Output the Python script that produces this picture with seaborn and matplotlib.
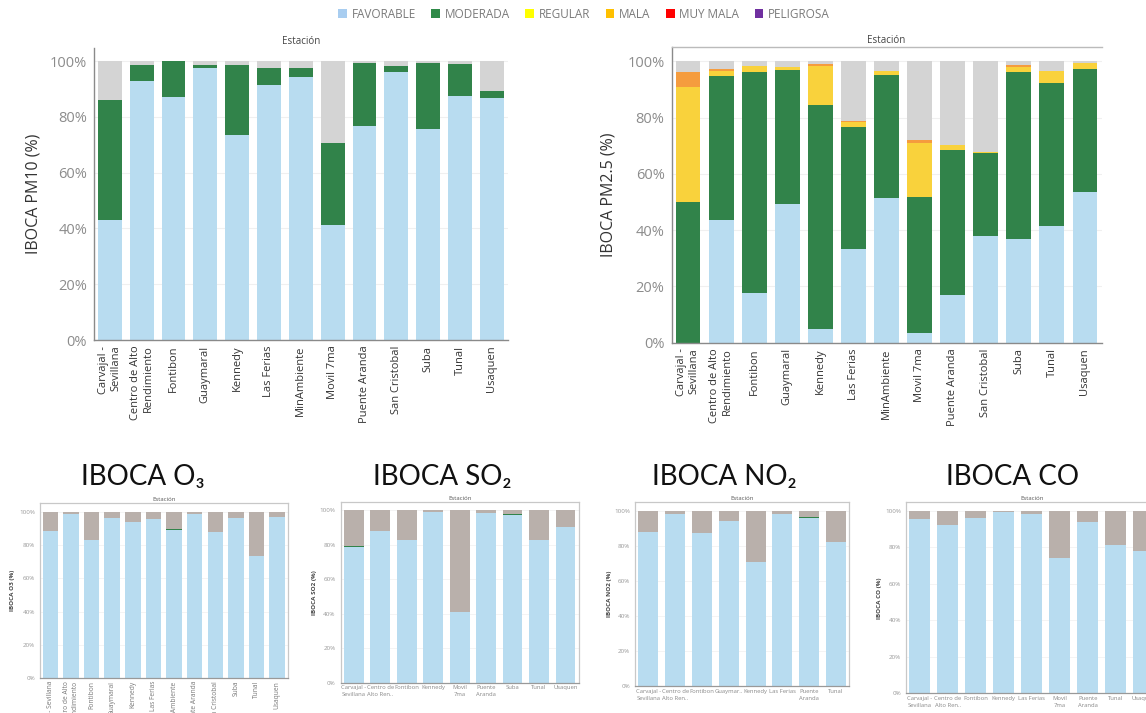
import numpy as np
import matplotlib
matplotlib.use("Agg")
import matplotlib.pyplot as plt
from matplotlib.patches import Patch
import seaborn as sns

sns.set_style("white")
plt.rcParams['font.family'] = ['Open Sans', 'DejaVu Sans']

# ---------------- colours ----------------
FAV_C = '#b8dcf0'
MOD_C = '#31834a'
REG_C = '#f9d23c'
MALA_C = '#f59c3e'
ND_C = '#d4d4d4'
ND2_C = '#b9b0ab'

# ---------------- legend ----------------
legend_labels = ["FAVORABLE", "MODERADA", "REGULAR", "MALA", "MUY MALA", "PELIGROSA"]
legend_colors = ['#a8cdf0', '#2f8a48', '#ffff00', '#ffc000', '#ff0000', '#7030a0']

# ---------------- PM10 ----------------
pm10_stations = ["Carvajal -\nSevillana", "Centro de Alto\nRendimiento", "Fontibon", "Guaymaral",
                 "Kennedy", "Las Ferias", "MinAmbiente", "Movil 7ma", "Puente Aranda",
                 "San Cristobal", "Suba", "Tunal", "Usaquen"]
pm10_fav = [42.9, 92.8, 87.2, 97.6, 73.5, 91.6, 94.4, 41.2, 76.6, 96.0, 75.8, 87.4, 86.8]
pm10_mod = [43.3, 5.8, 12.8, 1.0, 25.1, 5.8, 3.2, 29.5, 22.7, 2.2, 23.5, 11.4, 2.5]

# ---------------- PM2.5 ----------------
pm25_stations = pm10_stations
pm25_fav = [0.0, 43.6, 17.8, 49.4, 4.9, 33.4, 51.5, 3.3, 16.8, 37.8, 36.8, 41.6, 53.4]
pm25_mod = [50.0, 51.1, 78.4, 47.4, 79.6, 43.1, 43.8, 48.5, 51.7, 29.7, 59.4, 50.8, 43.8]
pm25_reg = [40.8, 2.0, 2.3, 1.3, 14.0, 1.8, 1.1, 19.3, 1.9, 0.4, 1.9, 4.3, 2.3]
pm25_mala = [5.4, 0.4, 0.0, 0.0, 0.4, 0.4, 0.0, 0.9, 0.0, 0.0, 0.5, 0.0, 0.0]

# ---------------- O3 ----------------
o3_stations = ["Carvajal - Sevillana", "Centro de Alto\nRendimiento", "Fontibon", "Guaymaral",
               "Kennedy", "Las Ferias", "MinAmbiente", "Puente Aranda", "San Cristobal",
               "Suba", "Tunal", "Usaquen"]
o3_fav = [88.8, 98.8, 83.3, 96.2, 93.8, 95.6, 89.0, 98.8, 87.8, 96.2, 73.7, 96.8]
o3_mod = [0, 0, 0, 0, 0, 0, 0.5, 0, 0, 0, 0, 0]
o3_reg = [0, 0, 0, 0, 0, 0, 0.5, 0, 0, 0, 0, 0]

# ---------------- SO2 ----------------
so2_stations = ["Carvajal -\nSevillana", "Centro de\nAlto Ren..", "Fontibon", "Kennedy",
                "Movil\n7ma", "Puente\nAranda", "Suba", "Tunal", "Usaquen"]
so2_fav = [78.8, 87.8, 82.6, 99.0, 40.7, 98.5, 96.9, 82.6, 90.3]
so2_mod = [0.4, 0, 0, 0, 0, 0, 0.8, 0, 0]

# ---------------- NO2 ----------------
no2_stations = ["Carvajal -\nSevillana", "Centro de\nAlto Ren..", "Fontibon", "Guaymar..",
                "Kennedy", "Las Ferias", "Puente\nAranda", "Tunal"]
no2_fav = [87.6, 98.3, 87.1, 93.9, 70.9, 98.3, 95.8, 81.9]
no2_mod = [0.3, 0, 0, 0.3, 0, 0, 0.4, 0.4]

# ---------------- CO ----------------
co_stations = ["Carvajal -\nSevillana", "Centro de\nAlto Ren..", "Fontibon", "Kennedy",
               "Las Ferias", "Movil\n7ma", "Puente\nAranda", "Tunal", "Usaquen"]
co_fav = [95.6, 92.3, 96.2, 99.6, 98.2, 74.2, 94.1, 81.4, 77.9]

pct_ticks = [0, 20, 40, 60, 80, 100]
pct_labels = ["0%", "20%", "40%", "60%", "80%", "100%"]

W, H = 1146, 713
fig = plt.figure(figsize=(W / 100, H / 100), dpi=100)


def add_ax(left, right, top, bottom):
    return fig.add_axes([left / W, 1 - bottom / H, (right - left) / W, (bottom - top) / H])


def stacked(ax, cats, layers, nd_color):
    n = len(cats)
    sns.barplot(x=cats, y=[100] * n, color=nd_color, width=0.75, errorbar=None,
                linewidth=0, saturation=1, ax=ax)
    cums = np.cumsum(np.array([np.asarray(v, float) for v, _ in layers]), axis=0)
    for i in range(len(layers) - 1, -1, -1):
        sns.barplot(x=cats, y=cums[i], color=layers[i][1], width=0.75, errorbar=None,
                    linewidth=0, saturation=1, ax=ax)


def style_big(ax, cats, ytop, ylabel, framed):
    n = len(cats)
    ax.set_xlim(-0.5, n - 0.5)
    ax.set_ylim(0, ytop)
    ax.set_yticks(pct_ticks)
    ax.set_yticklabels(pct_labels)
    ax.tick_params(axis='y', length=3, color='#9a9a9a', labelsize=10.5, labelcolor='#8c8c8c', pad=2)
    ax.set_xticks(range(n))
    ax.set_xticklabels(cats, rotation=90, fontsize=8, color='#333333', multialignment='right')
    ax.set_xticks(np.arange(-0.5, n, 1), minor=True)
    ax.tick_params(axis='x', which='major', length=0, pad=4)
    ax.tick_params(axis='x', which='minor', length=4, color='#8a8a8a', width=0.8)
    ax.yaxis.grid(True, color='#f0f0f0', lw=0.8)
    ax.set_axisbelow(True)
    ax.set_xlabel('')
    ax.set_ylabel(ylabel, fontsize=11.5, color='#333333')
    ax.yaxis.set_label_coords(-0.128, 0.5)
    ax.set_title('Estación', fontsize=7, color='#444444', pad=3)
    for s in ['left', 'bottom']:
        ax.spines[s].set_color('#8a8a8a')
        ax.spines[s].set_linewidth(1)
    ax.spines['right'].set_visible(False)
    if framed:
        ax.spines['top'].set_color('#bbbbbb')
        ax.spines['top'].set_linewidth(1)
    else:
        ax.spines['top'].set_visible(False)


def style_small(ax, cats, ytop, ylabel, lab_x, rotate=False):
    n = len(cats)
    ax.set_xlim(-0.5, n - 0.5)
    ax.set_ylim(0, ytop)
    ax.set_yticks(pct_ticks)
    ax.set_yticklabels(pct_labels)
    ax.tick_params(axis='y', length=2, color='#aaaaaa', labelsize=4.5, labelcolor='#999999', pad=1.5)
    ax.set_xticks(range(n))
    if rotate:
        ax.set_xticklabels(cats, rotation=90, fontsize=4.8, color='#777777', multialignment='right')
    else:
        ax.set_xticklabels(cats, fontsize=4.2, color='#888888', linespacing=1.5)
    ax.set_xticks(np.arange(-0.5, n, 1), minor=True)
    ax.tick_params(axis='x', which='major', length=0, pad=2)
    ax.tick_params(axis='x', which='minor', length=2, color='#aaaaaa', width=0.6)
    ax.yaxis.grid(True, color='#f3f3f3', lw=0.6)
    ax.set_axisbelow(True)
    ax.set_xlabel('')
    ax.set_ylabel(ylabel, fontsize=4.5, color='#444444', fontweight='bold')
    ax.yaxis.set_label_coords(lab_x, 0.5)
    ax.set_title('Estación', fontsize=4.3, color='#555555', pad=1.5)
    for s in ['left', 'right', 'top']:
        ax.spines[s].set_color('#c8c8c8')
        ax.spines[s].set_linewidth(0.9)
    ax.spines['bottom'].set_color('#999999')
    ax.spines['bottom'].set_linewidth(0.9)


# PM10
ax1 = add_ax(94, 507.6, 48, 340)
stacked(ax1, pm10_stations, [(pm10_fav, FAV_C), (pm10_mod, MOD_C)], ND_C)
style_big(ax1, pm10_stations, 104.7, 'IBOCA PM10 (%)', framed=False)

# PM2.5
ax2 = add_ax(671.5, 1101.5, 47.3, 342.7)
stacked(ax2, pm25_stations, [(pm25_fav, FAV_C), (pm25_mod, MOD_C), (pm25_reg, REG_C),
                             (pm25_mala, MALA_C)], ND_C)
style_big(ax2, pm25_stations, 104.97, 'IBOCA PM2.5 (%)', framed=True)

# O3
ax3 = add_ax(40, 287.5, 503, 678)
stacked(ax3, o3_stations, [(o3_fav, FAV_C), (o3_mod, MOD_C), (o3_reg, REG_C)], ND2_C)
style_small(ax3, o3_stations, 105.4, 'IBOCA O3 (%)', -0.10, rotate=True)

# SO2
ax4 = add_ax(340.5, 578.7, 501.7, 682.7)
stacked(ax4, so2_stations, [(so2_fav, FAV_C), (so2_mod, MOD_C)], ND2_C)
style_small(ax4, so2_stations, 104.8, 'IBOCA SO2 (%)', -0.099)

# NO2
ax5 = add_ax(635, 849.4, 501.7, 686)
stacked(ax5, no2_stations, [(no2_fav, FAV_C), (no2_mod, MOD_C)], ND2_C)
style_small(ax5, no2_stations, 105.1, 'IBOCA NO2 (%)', -0.107)

# CO
ax6 = add_ax(905.7, 1157.7, 502.3, 693.3)
stacked(ax6, co_stations, [(co_fav, FAV_C)], ND2_C)
style_small(ax6, co_stations, 104.8, 'IBOCA CO (%)', -0.094)

# bottom titles
titles = [("IBOCA O₃", 143), ("IBOCA SO₂", 442), ("IBOCA NO₂", 724), ("IBOCA CO", 1012)]
for t, x in titles:
    fig.text(x / W, 1 - 477 / H, t, fontsize=20, ha='center', va='center', color='#111111',
             family=['Lato', 'DejaVu Sans'])

# legend
handles = [Patch(facecolor=c, edgecolor='none') for c in legend_colors]
fig.legend(handles, legend_labels, loc='center', bbox_to_anchor=(584 / W, 1 - 14 / H), ncol=6,
           frameon=False, fontsize=8.5, handlelength=0.75, handleheight=0.75, handletextpad=0.4,
           columnspacing=1.3, labelcolor='#7a7a7a')

fig.savefig('out.png', dpi=100)
